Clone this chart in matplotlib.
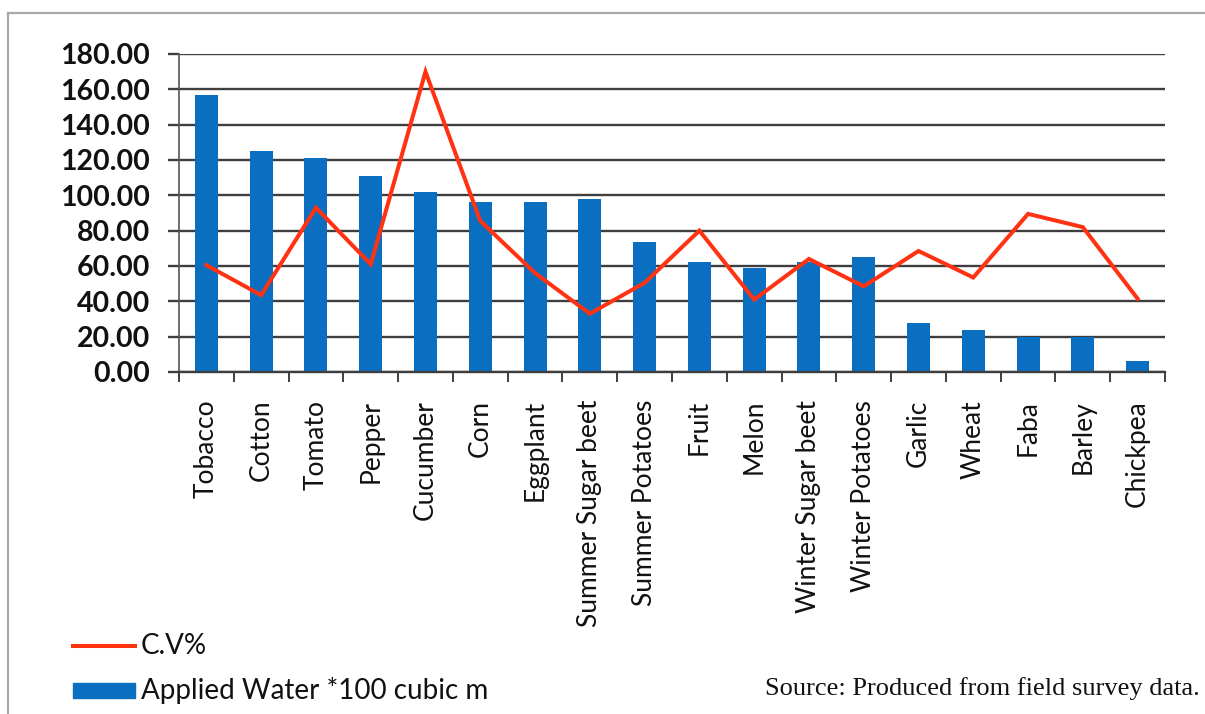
import matplotlib
matplotlib.use("Agg")
from matplotlib import pyplot as plt
from matplotlib.lines import Line2D
from matplotlib.patches import Rectangle
import numpy as np

crops = ["Tobacco", "Cotton", "Tomato", "Pepper", "Cucumber", "Corn",
         "Eggplant", "Summer Sugar beet", "Summer Potatoes", "Fruit", "Melon",
         "Winter Sugar beet", "Winter Potatoes", "Garlic", "Wheat", "Faba",
         "Barley", "Chickpea"]
applied_water = [157, 125, 121, 111, 102, 96, 96, 98, 73.5, 62.5, 59, 62,
                 65, 28, 23.7, 20, 20, 6.4]
cv_percent = [60.5, 43.5, 93, 61, 170, 85.5, 56, 33, 50.5, 80, 41, 64,
              48.5, 68.5, 53.5, 89.5, 82, 41.5]
y_ticks = [0, 20, 40, 60, 80, 100, 120, 140, 160, 180]

W, H = 1205, 714
plt.rcParams['font.family'] = ['Lato', 'DejaVu Sans']

fig = plt.figure(figsize=(W / 100, H / 100), dpi=100)
fig.patch.set_facecolor("white")


def fx(px):
    return px / W


def fy(py):
    return 1 - py / H


ax = fig.add_axes([fx(179), fy(372), fx(1165) - fx(179), fy(54) - fy(372)])

x = np.arange(len(crops))
ax.bar(x, applied_water, width=0.42, color="#0A6FC0", zorder=2)
ax.plot(x, cv_percent, color="#FF3212", lw=2.9, zorder=3,
        solid_joinstyle="miter")

ax.set_xlim(-0.5, len(crops) - 0.5)
ax.set_ylim(0, 180)
ax.set_yticks(y_ticks)
ax.set_yticklabels([f"{v:.2f}" for v in y_ticks])
ax.yaxis.grid(True, color="#3e3e3e", lw=1.7, zorder=1)
ax.set_axisbelow(True)

ax.set_xticks(x)
ax.set_xticklabels(crops, rotation=90, va="top", ha="center")
ax.set_xticks(np.arange(len(crops) + 1) - 0.5, minor=True)
ax.tick_params(axis="x", which="major", length=0, pad=20, labelsize=19,
               labelcolor="#111111")
ax.tick_params(axis="x", which="minor", length=7.5, width=1.4,
               color="#3e3e3e", direction="out")
ax.tick_params(axis="y", length=8, width=1.7, color="#3e3e3e", pad=13,
               labelsize=20.5, labelcolor="#111111")
for lab in ax.get_yticklabels():
    lab.set_fontweight("bold")

for side in ["top", "right"]:
    ax.spines[side].set_visible(False)
ax.spines["left"].set_color("#555555")
ax.spines["left"].set_linewidth(1.2)
ax.spines["bottom"].set_color("#3e3e3e")
ax.spines["bottom"].set_linewidth(1.7)

# frame around the figure
fig.add_artist(Line2D([fx(8), 1.0], [fy(13), fy(13)], color="#a8a8a8",
                      lw=1.6, transform=fig.transFigure))
fig.add_artist(Line2D([fx(8), fx(8)], [fy(13), 0.0], color="#a8a8a8",
                      lw=1.6, transform=fig.transFigure))

# legend, bottom left
fig.add_artist(Line2D([fx(73), fx(135)], [fy(646), fy(646)], color="#FF3212",
                      lw=2.9, transform=fig.transFigure))
fig.text(fx(141), fy(646), "C.V%", fontsize=20, va="center", ha="left",
         color="#111111")
fig.add_artist(Rectangle((fx(73), fy(698)), fx(135) - fx(73),
                         fy(683) - fy(698), color="#0A6FC0",
                         transform=fig.transFigure))
fig.text(fx(141), fy(691), "Applied Water *100 cubic m", fontsize=20,
         va="center", ha="left", color="#111111")

fig.text(fx(1200), fy(689), "Source: Produced from field survey data.",
         fontsize=19, family="Liberation Serif", va="center", ha="right",
         color="#111111")

fig.savefig("out.png", dpi=100)
